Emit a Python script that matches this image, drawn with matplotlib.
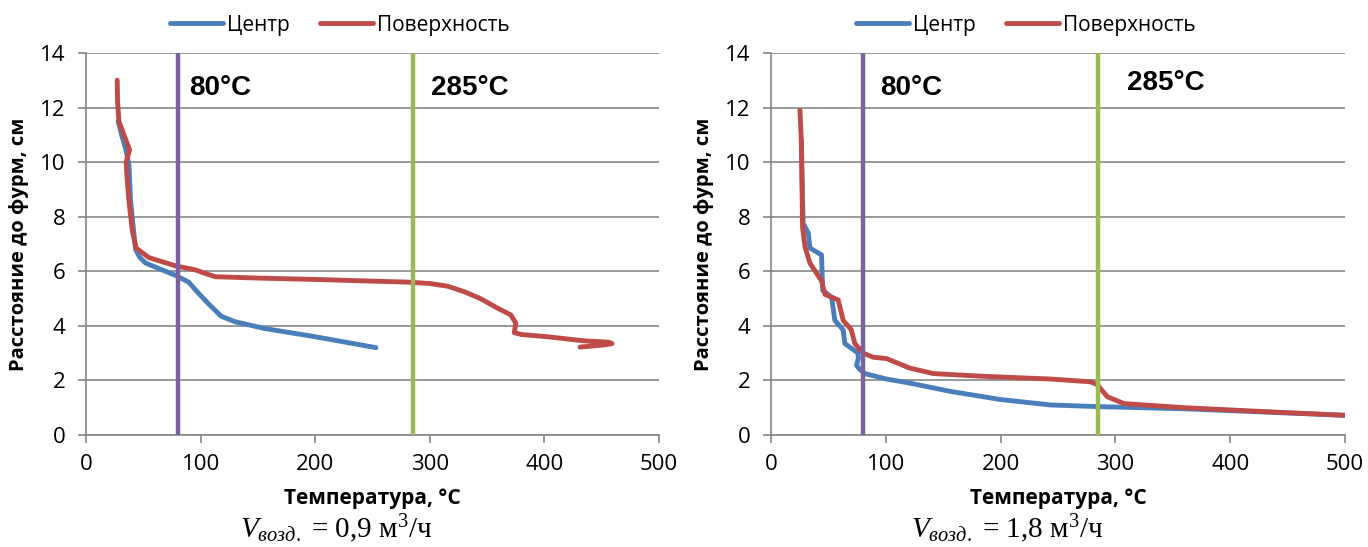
import matplotlib
matplotlib.use("Agg")
import matplotlib.pyplot as plt

# --- data ---
# left chart, V = 0,9 m3/h
centr_l_T = [28, 31, 34.5, 37.4, 38.8, 41.7, 43.2, 47, 52, 63.5, 78, 89.6, 98, 107, 118, 130, 156, 200, 253]
centr_l_h = [11.5, 11.0, 10.5, 9.9, 8.6, 7.4, 6.8, 6.5, 6.3, 6.1, 5.85, 5.6, 5.2, 4.8, 4.35, 4.15, 3.9, 3.6, 3.2]

pov_l_T = [27.2, 27.5, 28.7, 33, 38, 35, 36, 37.4, 40.3, 43.7, 54.8, 78, 95.4, 102, 112.7, 150, 199.7, 281,
           300, 315.7, 330, 344, 359, 370.6, 375, 373.6, 380, 402.6, 434.5, 456, 459, 452, 431]
pov_l_h = [13.0, 12.2, 11.5, 11.0, 10.45, 10.0, 9.3, 8.6, 7.5, 6.85, 6.5, 6.2, 6.05, 5.95, 5.8, 5.75, 5.7, 5.6,
           5.55, 5.45, 5.25, 5.0, 4.65, 4.4, 4.1, 3.75, 3.68, 3.6, 3.45, 3.4, 3.35, 3.3, 3.22]

# right chart, V = 1,8 m3/h
centr_r_T = [26.5, 26.7, 28, 32.5, 33.9, 44, 45, 52.8, 55.6, 62.9, 64.3, 75.9, 76, 74.5, 77.4, 81.7,
             100.6, 121, 156, 199.7, 243.5, 284, 360, 500]
centr_r_h = [10.8, 10.0, 7.75, 7.4, 6.85, 6.6, 5.3, 5.05, 4.2, 3.85, 3.35, 3.0, 2.8, 2.55, 2.4, 2.25,
             2.05, 1.9, 1.6, 1.3, 1.1, 1.04, 0.96, 0.72]

pov_r_T = [25.2, 26.2, 26.7, 27.5, 29.6, 33.9, 44, 47, 58.5, 62.9, 70, 73, 80.3, 89, 100.6, 109.3, 120.9,
           141.5, 185, 243.5, 278, 284, 293, 307.5, 360, 418, 500]
pov_r_h = [11.9, 11.0, 10.2, 7.6, 6.9, 6.3, 5.65, 5.15, 4.95, 4.2, 3.85, 3.35, 3.0, 2.85, 2.8, 2.65, 2.45,
           2.25, 2.15, 2.05, 1.95, 1.85, 1.4, 1.15, 1.0, 0.88, 0.72]

vlines = [80, 285]
vline_labels = ["80°C", "285°C"]
captions = ["0,9", "1,8"]

plt.rcParams["font.family"] = ["Open Sans", "DejaVu Sans"]
plt.rcParams["mathtext.fontset"] = "custom"
plt.rcParams["mathtext.rm"] = "Liberation Serif"
plt.rcParams["mathtext.it"] = "Liberation Serif:italic"

c_blue = "#4A7EBB"
c_red = "#BE4B48"
c_purple = "#7D60A0"
c_green = "#98B954"
c_grey = "#868686"

fig = plt.figure(figsize=(13.68, 5.47), dpi=100)
ax_l = fig.add_axes([0.0629, 0.2048, 0.4189, 0.6984])
ax_r = fig.add_axes([0.5636, 0.2048, 0.4196, 0.6984])

panels = [
    (ax_l, centr_l_T, centr_l_h, pov_l_T, pov_l_h, [(89.6, 12.7), (301, 12.7)], 0.2485, 0.2456, captions[0]),
    (ax_r, centr_r_T, centr_r_h, pov_r_T, pov_r_h, [(94.8, 12.7), (310, 12.9)], 0.750, 0.736, captions[1]),
]

for ax, cT, ch, pT, ph, lab_pos, leg_x, cap_x, cap in panels:
    l1, = ax.plot(cT, ch, color=c_blue, lw=3.5, solid_joinstyle="round", solid_capstyle="round", zorder=2, label="Центр")
    l2, = ax.plot(pT, ph, color=c_red, lw=3.5, solid_joinstyle="round", solid_capstyle="round", zorder=2.1, label="Поверхность")
    ax.axvline(vlines[0], color=c_purple, lw=3.2, zorder=3)
    ax.axvline(vlines[1], color=c_green, lw=3.2, zorder=3)
    for (tx, ty), s in zip(lab_pos, vline_labels):
        ax.text(tx, ty, s, family="Liberation Sans", fontweight="bold", fontsize=20, va="center", ha="left")

    ax.set_xlim(0, 500)
    ax.set_ylim(0, 14)
    ax.set_xticks(range(0, 501, 100))
    ax.set_yticks(range(0, 15, 2))
    ax.grid(axis="y", color=c_grey, lw=1.2)
    ax.set_axisbelow(True)
    for sp in ["top", "right"]:
        ax.spines[sp].set_visible(False)
    for sp in ["left", "bottom"]:
        ax.spines[sp].set_color(c_grey)
        ax.spines[sp].set_linewidth(1.2)
    ax.tick_params(axis="both", colors=c_grey, labelcolor="black", labelsize=16, width=1.2, length=6)
    ax.tick_params(axis="y", pad=9)
    ax.tick_params(axis="x", pad=8)

    ax.set_xlabel("Температура, °C", fontsize=15, fontweight="bold")
    ax.xaxis.set_label_coords(0.5, -0.14)
    ax.set_ylabel("Расстояние до фурм, см", fontsize=14.5, fontweight="bold")
    ax.yaxis.set_label_coords(-0.10, 0.5)

    fig.legend(handles=[l1, l2], loc="center", bbox_to_anchor=(leg_x, 0.954), ncol=2, frameon=False,
               fontsize=15, handlelength=2.55, handletextpad=0.2, columnspacing=1.45)

    fig.text(cap_x, 0.033, r"$V_{возд.}$ = " + cap + r" м$^3$/ч", family="Liberation Serif",
             fontsize=21, ha="center", va="center")

fig.savefig("out.png", dpi=100)
